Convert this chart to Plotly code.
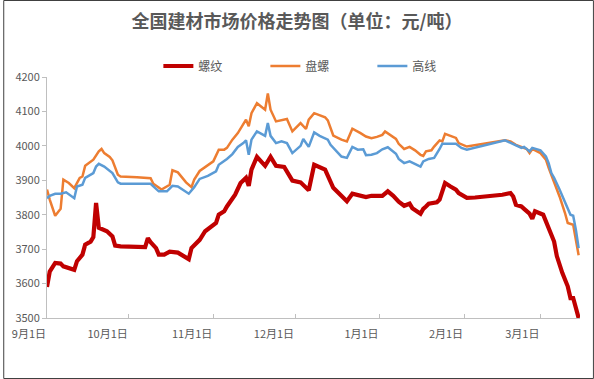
import plotly.graph_objects as go

# ---------------- data ----------------
rebar_dates = ["2020-09-01","2020-09-02","2020-09-04","2020-09-06","2020-09-07","2020-09-11","2020-09-12",
    "2020-09-14","2020-09-15","2020-09-17","2020-09-18","2020-09-19","2020-09-20","2020-09-23","2020-09-25",
    "2020-09-26","2020-09-28","2020-10-07","2020-10-08","2020-10-09","2020-10-11","2020-10-12","2020-10-14",
    "2020-10-16","2020-10-19","2020-10-21","2020-10-23","2020-10-24","2020-10-27","2020-10-29","2020-11-01",
    "2020-11-02","2020-11-03","2020-11-05","2020-11-06","2020-11-08","2020-11-09","2020-11-11","2020-11-13",
    "2020-11-14","2020-11-15","2020-11-17","2020-11-20","2020-11-22","2020-11-24","2020-11-27","2020-11-30",
    "2020-12-03","2020-12-06","2020-12-08","2020-12-12","2020-12-15","2020-12-18","2020-12-20","2020-12-22",
    "2020-12-25","2020-12-27","2020-12-29","2021-01-02","2021-01-04","2021-01-06","2021-01-08","2021-01-10",
    "2021-01-12","2021-01-13","2021-01-16","2021-01-17","2021-01-18","2021-01-19","2021-01-22","2021-01-23",
    "2021-01-24","2021-01-25","2021-01-27","2021-01-29","2021-01-30","2021-02-02","2021-02-05","2021-02-10",
    "2021-02-15","2021-02-18","2021-02-19","2021-02-20","2021-02-22","2021-02-23","2021-02-25","2021-02-26",
    "2021-02-27","2021-03-02","2021-03-03","2021-03-04","2021-03-06","2021-03-07","2021-03-09","2021-03-11",
    "2021-03-12","2021-03-13","2021-03-14","2021-03-15"]
rebar_values = [3590,3635,3660,3658,3650,3640,3665,
    3684,3713,3722,3735,3834,3762,3752,3737,
    3710,3708,3706,3732,3720,3703,3684,3684,
    3693,3690,3679,3671,3703,3727,3752,3771,
    3776,3800,3810,3824,3844,3858,3892,3907,
    3884,3931,3968,3942,3968,3942,3939,3899,
    3894,3871,3945,3931,3878,3853,3839,3861,
    3855,3851,3855,3855,3868,3855,3838,3826,
    3832,3819,3803,3817,3824,3832,3836,3844,
    3868,3892,3882,3873,3863,3849,3850,3853,
    3858,3863,3853,3829,3824,3817,3803,3788,
    3810,3800,3781,3756,3722,3680,3631,3592,
    3558,3558,3529,3500]

coil_dates = ["2020-09-01","2020-09-02","2020-09-04","2020-09-06","2020-09-07","2020-09-09","2020-09-11",
    "2020-09-13","2020-09-14","2020-09-15","2020-09-18","2020-09-20","2020-09-21","2020-09-22","2020-09-24",
    "2020-09-25","2020-09-27","2020-09-28","2020-10-04","2020-10-09","2020-10-10","2020-10-13","2020-10-16",
    "2020-10-17","2020-10-19","2020-10-22","2020-10-24","2020-10-25","2020-10-27","2020-10-30","2020-11-01",
    "2020-11-03","2020-11-05","2020-11-06","2020-11-08","2020-11-10","2020-11-12","2020-11-13","2020-11-14",
    "2020-11-15","2020-11-17","2020-11-20","2020-11-21","2020-11-22","2020-11-24","2020-11-28","2020-11-30",
    "2020-12-03","2020-12-05","2020-12-06","2020-12-08","2020-12-12","2020-12-13","2020-12-14","2020-12-15",
    "2020-12-18","2020-12-20","2020-12-22","2020-12-24","2020-12-25","2020-12-27","2020-12-29","2020-12-31",
    "2021-01-02","2021-01-03","2021-01-05","2021-01-07","2021-01-08","2021-01-10","2021-01-12","2021-01-14",
    "2021-01-16","2021-01-17","2021-01-18","2021-01-20","2021-01-21","2021-01-23","2021-01-24","2021-01-25",
    "2021-01-27","2021-01-29","2021-01-30","2021-02-02","2021-02-16","2021-02-18","2021-02-20","2021-02-22",
    "2021-02-24","2021-02-25","2021-02-26","2021-03-01","2021-03-03","2021-03-04","2021-03-05","2021-03-06",
    "2021-03-08","2021-03-10","2021-03-11","2021-03-13","2021-03-14","2021-03-15"]
coil_values = [3873,3844,3797,3817,3902,3892,3877,
    3907,3911,3942,3960,3984,3991,3979,3968,
    3958,3916,3911,3909,3906,3890,3873,3887,
    3929,3923,3894,3880,3902,3927,3945,3955,
    3989,3989,3994,4018,4037,4066,4076,4057,
    4095,4124,4105,4152,4105,4071,4078,4042,
    4066,4049,4076,4095,4083,4074,4052,4030,
    4018,4013,4050,4042,4037,4027,4022,4026,
    4032,4042,4030,4020,4006,3991,3997,3987,
    3974,3971,3984,3987,3998,4016,4013,4035,
    4029,4023,4008,3998,4016,4013,4003,3997,
    3991,3979,3991,3979,3960,3936,3916,3892,
    3853,3805,3776,3771,3727,3682]

wire_dates = ["2020-09-01","2020-09-02","2020-09-04","2020-09-06","2020-09-08","2020-09-10","2020-09-11",
    "2020-09-12","2020-09-14","2020-09-15","2020-09-17","2020-09-18","2020-09-19","2020-09-20","2020-09-22",
    "2020-09-24","2020-09-25","2020-09-27","2020-09-28","2020-10-09","2020-10-12","2020-10-15","2020-10-17",
    "2020-10-19","2020-10-23","2020-10-25","2020-10-27","2020-10-30","2020-11-02","2020-11-03","2020-11-06",
    "2020-11-08","2020-11-10","2020-11-12","2020-11-13","2020-11-14","2020-11-15","2020-11-17","2020-11-20",
    "2020-11-21","2020-11-22","2020-11-24","2020-11-26","2020-11-28","2020-11-30","2020-12-03","2020-12-04",
    "2020-12-06","2020-12-08","2020-12-10","2020-12-13","2020-12-14","2020-12-16","2020-12-18","2020-12-20",
    "2020-12-22","2020-12-24","2020-12-26","2020-12-27","2020-12-29","2020-12-31","2021-01-02","2021-01-04",
    "2021-01-06","2021-01-07","2021-01-08","2021-01-10","2021-01-12","2021-01-14","2021-01-16","2021-01-17",
    "2021-01-19","2021-01-21","2021-01-22","2021-01-23","2021-01-24","2021-01-29","2021-01-31","2021-02-02",
    "2021-02-16","2021-02-18","2021-02-20","2021-02-22","2021-02-23","2021-02-25","2021-02-26","2021-03-01",
    "2021-03-03","2021-03-04","2021-03-05","2021-03-06","2021-03-08","2021-03-10","2021-03-12","2021-03-13",
    "2021-03-14","2021-03-15"]
wire_values = [3848,3855,3861,3861,3865,3855,3848,
    3882,3887,3907,3916,3921,3940,3948,3940,
    3929,3921,3894,3890,3890,3868,3868,3884,
    3882,3861,3880,3904,3913,3926,3945,3962,
    3976,3997,4008,4016,3974,4018,4042,4029,
    4066,4029,4008,4013,4008,3979,4000,4020,
    3997,4039,4029,4018,4003,3987,3969,3965,
    3997,3989,3990,3973,3974,3979,3990,3996,
    3985,3977,3962,3950,3955,3948,3940,3955,
    3962,3965,3977,3991,4006,4006,3994,3989,
    4016,4008,4000,3994,3997,3984,3994,3987,
    3969,3950,3921,3907,3873,3834,3800,3797,
    3756,3703]

tick_dates = ["2020-09-01","2020-10-01","2020-11-01","2020-12-01","2021-01-01","2021-02-01","2021-03-01"]
tick_labels = ["9月1日","10月1日","11月1日","12月1日","1月1日","2月1日","3月1日"]
y_ticks = [3500,3600,3700,3800,3900,4000,4100,4200]

series_names = ["螺纹", "盘螺", "高线"]
series_colors = ["#C00000", "#ED7D31", "#5B9BD5"]
series_widths = [4.2, 2.5, 2.5]

# ---------------- figure ----------------
W, H = 594, 379
L, R, T, B = 44, 14, 77, 61
FONT = "Noto Sans CJK SC"

fig = go.Figure()
for name, xs, ys, c, w in zip(series_names,
                              [rebar_dates, coil_dates, wire_dates],
                              [rebar_values, coil_values, wire_values],
                              series_colors, series_widths):
    fig.add_trace(go.Scatter(x=xs, y=ys, mode="lines", name=name,
                             line=dict(color=c, width=w)))

pw, ph = W - L - R, H - T - B
def px_to_paper_x(px): return (px - L) / pw
def px_to_paper_y(py): return (H - B - py) / ph

fig.update_layout(
    width=W, height=H,
    margin=dict(l=L, r=R, t=T, b=B, pad=0),
    paper_bgcolor="white", plot_bgcolor="white",
    font=dict(family=FONT, color="#595959", size=11),
    title=dict(text="<b>全国建材市场价格走势图（单位：元/吨）</b>",
               x=0.5, xref="container", xanchor="center",
               y=1 - 22 / H, yref="container", yanchor="middle",
               font=dict(family=FONT, size=18, color="#595959")),
    showlegend=True,
    legend=dict(orientation="h", x=px_to_paper_x(156), xanchor="left",
                y=px_to_paper_y(66), yanchor="middle",
                entrywidth=62, entrywidthmode="pixels",
                font=dict(family=FONT, size=12, color="#595959"),
                bgcolor="rgba(0,0,0,0)"),
    xaxis=dict(type="date", range=["2020-09-01", "2021-03-15 12:00"],
               tickvals=tick_dates, ticktext=tick_labels,
               ticklabelposition="outside left", ticklabelstandoff=6,
               ticks="inside", ticklen=4, tickcolor="#BFBFBF",
               showline=True, linecolor="#BFBFBF", linewidth=1,
               showgrid=False, zeroline=False,
               tickfont=dict(family=FONT, size=11, color="#595959")),
    yaxis=dict(range=[3500, 4200], tickvals=y_ticks,
               ticks="outside", ticklen=4, tickcolor="#BFBFBF",
               showline=True, linecolor="#BFBFBF", linewidth=1,
               showgrid=False, zeroline=False,
               tickfont=dict(family=FONT, size=11, color="#595959")),
)

# outer border of the chart
fig.add_shape(type="rect", xref="paper", yref="paper",
              x0=px_to_paper_x(0.5), x1=px_to_paper_x(W - 0.5),
              y0=px_to_paper_y(H - 0.5), y1=px_to_paper_y(0.5),
              line=dict(color="#404040", width=1), fillcolor="rgba(0,0,0,0)",
              layer="below")

fig.write_html("out.html",
               config={"displayModeBar": False},
               post_script="document.body.style.margin='0';document.body.style.overflow='hidden';")
